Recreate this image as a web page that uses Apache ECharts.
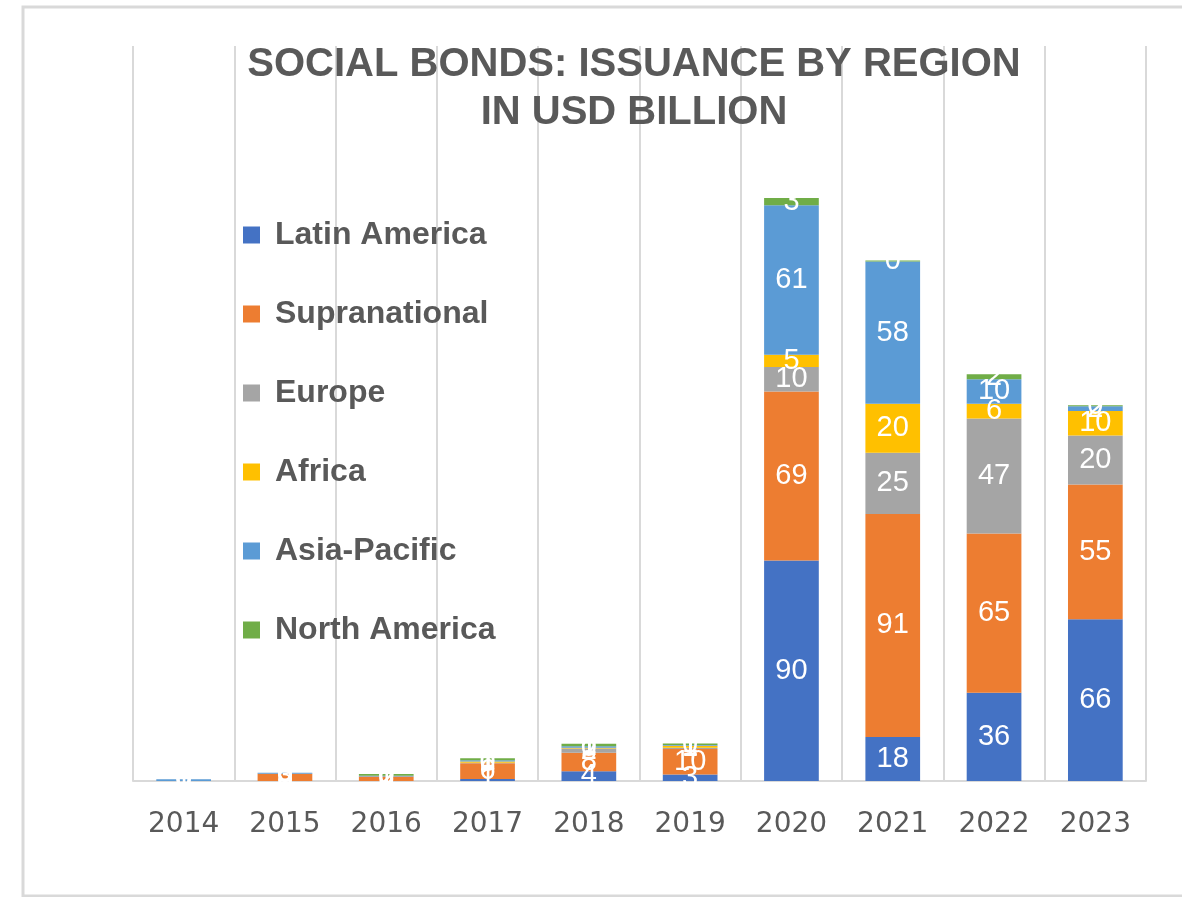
<!DOCTYPE html>
<html>
<head>
<meta charset="utf-8">
<script src="https://cdn.jsdelivr.net/npm/echarts@6/dist/echarts.min.js"></script>
<style>
  html, body { margin: 0; padding: 0; background: #ffffff; }
  #chart { width: 1182px; height: 897px; }
</style>
</head>
<body>
<div id="chart"></div>
<script>
// Social bond issuance by region, USD billion
const years = ['2014', '2015', '2016', '2017', '2018', '2019', '2020', '2021', '2022', '2023'];

const latinAmerica  = [0,   0,   0,   0.8, 4,   2.7,  90, 18, 36, 66];
const supranational = [0,   3,   1.8, 6.4, 7.5, 10.4, 69, 91, 65, 55];
const europe        = [0,   0,   0,   0.3, 1.8, 0.5,  10, 25, 47, 20];
const africa        = [0,   0,   0,   0.5, 0.3, 0.8,  5,  20, 6,  10];
const asiaPacific   = [0.7, 0.4, 0.3, 0.5, 0.6, 0.3,  61, 58, 10, 2];
const northAmerica  = [0,   0,   0.8, 0.8, 1,   0.6,  3,  0.4, 2, 0.4];

const seriesDefs = [
  { name: 'Latin America', data: latinAmerica,  color: '#4472c4' },
  { name: 'Supranational', data: supranational, color: '#ed7d31' },
  { name: 'Europe',        data: europe,        color: '#a5a5a5' },
  { name: 'Africa',        data: africa,        color: '#ffc000' },
  { name: 'Asia-Pacific',  data: asiaPacific,   color: '#5b9bd5' },
  { name: 'North America', data: northAmerica,  color: '#70ad47' }
];

const chart = echarts.init(document.getElementById('chart'), null, { renderer: 'canvas' });

chart.setOption({
  backgroundColor: '#ffffff',
  animation: false,
  title: {
    text: 'SOCIAL BONDS: ISSUANCE BY REGION\nIN USD BILLION',
    left: 629,
    top: 36,
    textAlign: 'center',
    textStyle: {
      fontFamily: 'Liberation Sans',
      fontWeight: 'bold',
      fontSize: 40,
      lineHeight: 48,
      color: '#595959'
    }
  },
  legend: {
    orient: 'vertical',
    left: 238,
    top: 214,
    itemWidth: 17,
    itemHeight: 17,
    itemGap: 47,
    icon: 'rect',
    data: seriesDefs.map(s => s.name),
    textStyle: {
      fontFamily: 'Liberation Sans',
      fontWeight: 'bold',
      fontSize: 32,
      lineHeight: 32,
      color: '#595959',
      padding: [0, 0, 0, 10]
    }
  },
  grid: { left: 133, right: 36, top: 46, bottom: 116, containLabel: false },
  xAxis: {
    type: 'category',
    data: years,
    axisLine: { show: true, lineStyle: { color: '#d9d9d9', width: 2 } },
    axisTick: { show: false },
    splitLine: { show: true, lineStyle: { color: '#d9d9d9', width: 2 } },
    axisLabel: {
      margin: 30,
      fontFamily: 'DejaVu Sans',
      fontSize: 28,
      color: '#595959'
    }
  },
  yAxis: {
    type: 'value',
    min: 0,
    max: 300,
    show: false
  },
  graphic: [{
    type: 'rect',
    shape: { x: 23, y: 7, width: 1200, height: 889 },
    style: { fill: 'none', stroke: '#d9d9d9', lineWidth: 3 },
    silent: true,
    z: -1
  }],
  series: seriesDefs.map(s => ({
    name: s.name,
    type: 'bar',
    stack: 'total',
    barWidth: '54%',
    data: s.data,
    itemStyle: { color: s.color },
    label: {
      show: true,
      position: 'inside',
      color: '#ffffff',
      fontFamily: 'Liberation Sans',
      fontSize: 29,
      formatter: p => String(Math.round(p.value))
    }
  }))
});
</script>
</body>
</html>
